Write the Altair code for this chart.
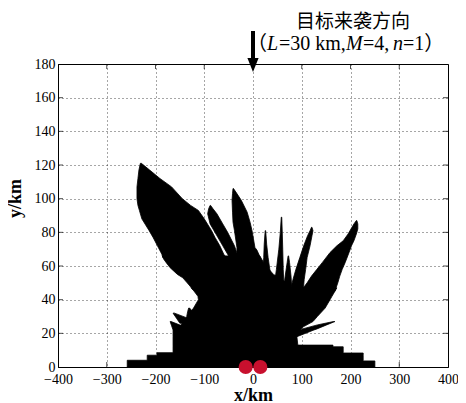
import altair as alt
import pandas as pd

# ---- axis ticks ----
X_TICKS = [-400, -300, -200, -100, 0, 100, 200, 300, 400]
Y_TICKS = [0, 20, 40, 60, 80, 100, 120, 140, 160, 180]
X_INNER = [-300, -200, -100, 0, 100, 200, 300]
Y_INNER = [20, 40, 60, 80, 100, 120, 140, 160]

# ---- sensors (red markers) ----
SENSOR_X = [-15, 15]
SENSOR_Y = [0, 0]

# ---- coverage region pieces: rows of (y, x_left, x_right) in km ----
CORE = [
    (0, -258, 250), (3.6, -258, 250), (3.61, -258, 226), (4, -258, 226),
    (4.01, -217, 226), (7, -217, 226), (7.01, -197, 226), (8.3, -197, 226),
    (8.31, -197, 185), (8.5, -197, 185), (8.51, -164, 185), (12, -164, 185),
    (12.01, -164, 164), (13, -164, 164), (13.01, -164, 92), (18, -164, 90),
    (22, -164, 96), (24, -150, 104), (27, -143, 123), (30, -135, 132),
    (35, -122, 148), (40, -112, 158), (42, -113, 162), (47, -126, 172),
]
MASS = [
    (46, -124, 80), (48, -129, 74), (50, -135, 68), (53, -144, 55),
    (55, -155, 42), (59, -170, 30), (62, -178, 22), (64, -183, 18), (66, -186, 14),
]
A_FEATHER = [
    (65, -185, -55), (67, -187, -60), (72, -196, -68), (77, -205, -78),
    (81, -213, -85), (88, -228, -100), (93, -233, -112), (96, -236, -128),
    (100, -238, -145), (107, -238, -167), (112, -236, -191), (117, -234, -212),
    (121, -231, -229),
]
F_SPIKE = [
    (65, -48, -30), (66, -50, -31), (72, -62, -38), (80, -78, -52),
    (85, -88, -62), (91, -93, -74), (94, -91, -82), (96, -88, -87),
]
D_SPIKE = [
    (65, -33, 15), (69.5, -33, 8), (71, -33, 4), (81, -38, -2), (86, -41, -6),
    (92, -42, -12), (99, -43, -24), (103, -42, -33), (106, -41, -40),
]
S1_SPIKE = [(45, 18, 42), (55, 20, 36), (65, 22, 31), (73, 23, 28), (81, 25, 26)]
S2_SPIKE = [(45, 42, 64), (58, 48, 62), (70, 53, 61), (80, 56, 60), (89, 58, 59)]
S3_SPIKE = [(45, 62, 80), (54, 66, 78), (62, 70, 75), (66, 72, 73)]
E_SPIKE = [
    (45, 76, 103), (52, 82, 105), (58, 88, 108), (65, 96, 111), (72, 104, 117),
    (78, 112, 121), (81, 117, 123), (83, 120, 121),
]
C_FEATHER = [
    (45, 98, 168), (50, 111, 174), (54, 120, 178), (58, 131, 183), (62, 142, 189),
    (68, 158, 197), (72, 172, 202), (75, 185, 207), (79, 195, 212), (82, 201, 215),
    (85, 207, 215), (87, 212, 213),
]
B_FEATHER = [(18, 60, 90), (22, 60, 125), (22.5, 100, 130), (25, 132, 151), (27, 165, 168)]
L1_SPIKE = [(22, -164, -140), (24.5, -167, -146), (27, -170, -168)]
L2_SPIKE = [(26, -150, -128), (29, -157, -134), (32, -164, -161)]
L3_SPIKE = [(30, -136, -118), (33, -134, -124), (35, -132, -130)]

PIECES = {
    "core": CORE, "mass": MASS, "A": A_FEATHER, "F": F_SPIKE, "D": D_SPIKE,
    "S1": S1_SPIKE, "S2": S2_SPIKE, "S3": S3_SPIKE, "E": E_SPIKE, "C": C_FEATHER,
    "B": B_FEATHER, "L1": L1_SPIKE, "L2": L2_SPIKE, "L3": L3_SPIKE,
}

# ---- annotation texts ----
TITLE1 = "目标来袭方向"
TITLE2_PARTS = ["（", "L", "=30 km,", "M", "=4,", "n", "=1）"]
TITLE2_ITALIC = [False, True, False, True, False, True, False]
TITLE2_PX = [247, 267, 279, 346, 363, 393, 403]

rows = []
for name, pts in PIECES.items():
    for (y, xl, xr) in pts:
        rows.append({"piece": name, "y": y, "xl": xl, "xr": xr})
region = pd.DataFrame(rows)

xs = alt.Scale(domain=[-400, 400], nice=False, zero=False)
ys = alt.Scale(domain=[0, 180], nice=False, zero=False)

SERIF = "Liberation Serif"
PLOT_LEFT, PLOT_TOP = 58, 64

X_AXIS = alt.Axis(values=X_TICKS, title="x/km", labelPadding=5,
                  titleY=33, titleBaseline="alphabetic")
Y_AXIS = alt.Axis(values=Y_TICKS, title="y/km", labelPadding=3,
                  titleX=-34, titleY=134, titleBaseline="bottom", titleAngle=-90)

blob = alt.Chart(region).mark_area(
    orient="horizontal", color="black", opacity=1, stroke="black", strokeWidth=0.8
).encode(
    y=alt.Y("y:Q", scale=ys, axis=Y_AXIS),
    x=alt.X("xl:Q", scale=xs, axis=X_AXIS),
    x2="xr:Q",
    detail="piece:N",
)

tick_x = pd.DataFrame({"v": X_INNER})
tick_y = pd.DataFrame({"v": Y_INNER})
ticks_bottom = alt.Chart(tick_x).mark_tick(size=5, thickness=1, color="black").encode(
    x=alt.X("v:Q", scale=xs, axis=X_AXIS), y=alt.value(300.5))
ticks_top = alt.Chart(tick_x).mark_tick(size=5, thickness=1, color="black").encode(
    x=alt.X("v:Q", scale=xs, axis=X_AXIS), y=alt.value(2.5))
ticks_left = alt.Chart(tick_y).mark_tick(size=5, thickness=1, color="black").encode(
    y=alt.Y("v:Q", scale=ys, axis=Y_AXIS), x=alt.value(2.5))
ticks_right = alt.Chart(tick_y).mark_tick(size=5, thickness=1, color="black").encode(
    y=alt.Y("v:Q", scale=ys, axis=Y_AXIS), x=alt.value(387.5))

sensors = alt.Chart(pd.DataFrame({"sx": SENSOR_X, "sy": SENSOR_Y})).mark_point(
    filled=True, size=200, color="#c8102e", opacity=1, shape="circle", clip=False
).encode(x=alt.X("sx:Q", scale=xs, axis=X_AXIS), y=alt.Y("sy:Q", scale=ys, axis=Y_AXIS))

one = pd.DataFrame({"a": [0]})
arrow_shaft = alt.Chart(one).mark_rule(color="black", strokeWidth=4).encode(
    x=alt.value(253 - PLOT_LEFT), y=alt.value(31 - PLOT_TOP), y2=alt.value(60 - PLOT_TOP))
arrow_head = alt.Chart(one).mark_point(
    shape="M-0.8,-1L0.8,-1L0,1Z", filled=True, color="black", opacity=1, size=196, strokeWidth=0
).encode(x=alt.value(253 - PLOT_LEFT), y=alt.value(65 - PLOT_TOP))

texts = [
    alt.Chart(one).mark_text(text=TITLE1, font="Noto Sans CJK SC", fontSize=19,
                             align="center", baseline="middle", color="black").encode(
        x=alt.value(353 - PLOT_LEFT), y=alt.value(21.5 - PLOT_TOP))
]
for part, ital, px in zip(TITLE2_PARTS, TITLE2_ITALIC, TITLE2_PX):
    texts.append(
        alt.Chart(one).mark_text(text=part, font=SERIF + ", Noto Sans CJK SC", fontSize=20,
                                 fontStyle="italic" if ital else "normal",
                                 align="left", baseline="alphabetic", color="black").encode(
            x=alt.value(px - PLOT_LEFT), y=alt.value(49.5 - PLOT_TOP))
    )

chart = alt.layer(
    blob, ticks_bottom, ticks_top, ticks_left, ticks_right, sensors,
    arrow_shaft, arrow_head, *texts
).properties(
    width=390, height=303,
    autosize=alt.AutoSizeParams(type="none"),
    padding={"left": 50, "top": 56, "right": 10, "bottom": 36},
).configure_axis(
    grid=True, tickSize=0, labelOverlap=False, labelFlush=False,
    labelFont=SERIF, labelFontSize=14, labelColor="black",
    titleFont=SERIF, titleFontSize=18, titleFontWeight="bold", titleColor="black",
    domainColor="black", domainWidth=1,
    gridColor="black", gridDash=[1, 3], gridOpacity=0.7, gridWidth=1,
).configure_view(stroke="black", strokeWidth=1)

chart.save("out.html", embed_options={"renderer": "svg", "actions": False})
